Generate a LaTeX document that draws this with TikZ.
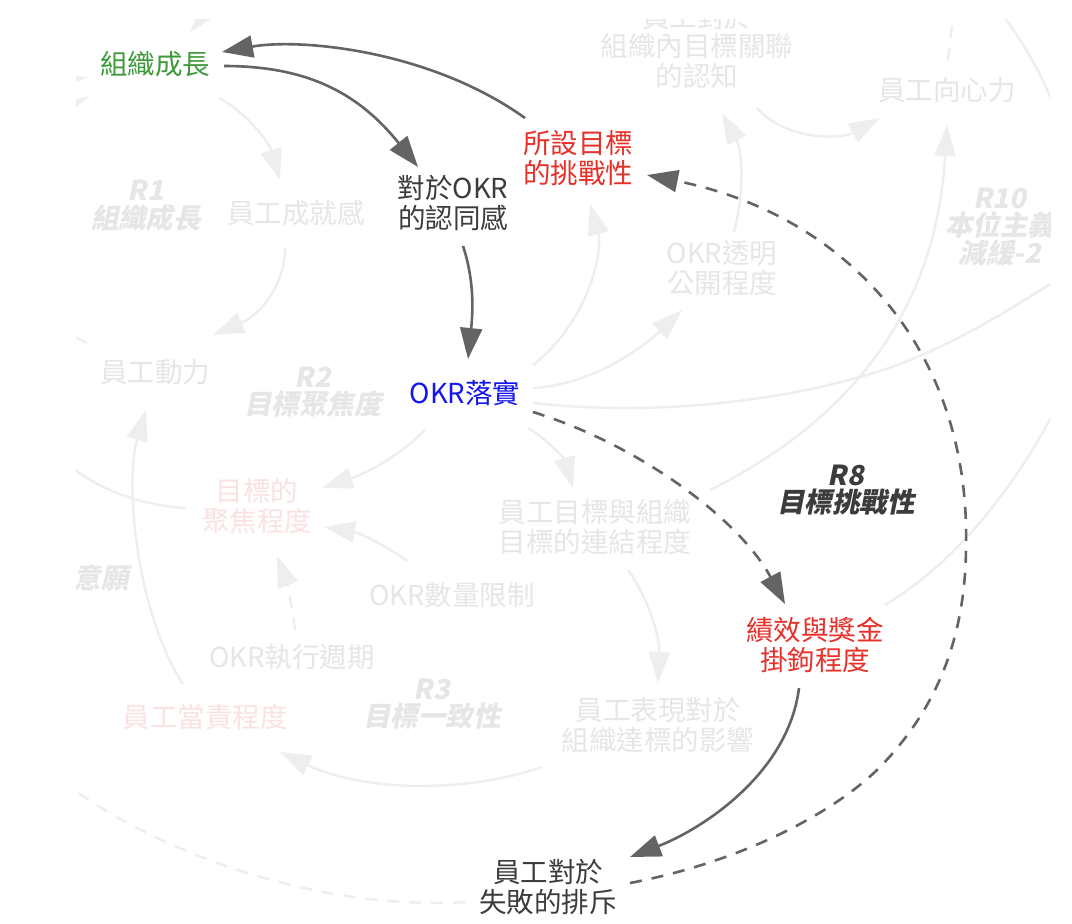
\documentclass[tikz,border=0pt]{standalone}
\usepackage{fontspec}
\setmainfont{Noto Sans CJK TC}
\newfontfamily\slfont{Noto Sans CJK TC}[UprightFeatures={FakeSlant=0.2},BoldFeatures={FakeSlant=0.2}]
\usetikzlibrary{arrows.meta,calc}
\definecolor{dk}{HTML}{646464}
\definecolor{txtdk}{HTML}{3C3C3C}
\definecolor{grn}{HTML}{3E9A3A}
\definecolor{rd}{HTML}{E8302A}
\definecolor{bl}{HTML}{1414F0}
\definecolor{fl}{HTML}{EEEEEE}
\definecolor{ft}{HTML}{E6E6E6}
\definecolor{fp}{HTML}{FBE2E2}
\tikzset{
 lbl/.style={font=\fontsize{27.5}{29.5}\selectfont, align=center, inner sep=0pt},
 looplbl/.style={font=\fontsize{27.5}{27.5}\selectfont\slfont\bfseries, align=center, inner sep=0pt},
 darr/.style={draw=dk, line width=2.6pt, -{Triangle[length=31pt,width=22pt]}},
 farr/.style={draw=fl, line width=2.4pt, -{Triangle[length=31pt,width=21pt]}},
 fline/.style={draw=fl, line width=2.4pt},
 dsh/.style={dash pattern=on 12pt off 10pt},
}
\begin{document}
\begin{tikzpicture}[x=1pt,y=-1pt]
\useasboundingbox[fill=white] (0,0) rectangle (1072,924);
\begin{scope}
\clip (76,19) rectangle (1050,924);
% ---------- faded nodes ----------
\node[lbl,text=ft] (cog) at (697,46) {員工對於\\組織內目標關聯\\的認知};
\node[lbl,text=ft] (xin) at (947,90) {員工向心力};
\node[looplbl,text=ft] (r10) at (1000,227) {R10\\本位主義\\減緩-2};
\node[lbl,text=ft] (tran) at (722,268) {OKR透明\\公開程度};
\node[looplbl,text=ft] (r1) at (146,206) {R1\\組織成長};
\node[lbl,text=ft] (ach) at (296,213) {員工成就感};
\node[lbl,text=ft] (mot) at (155,372) {員工動力};
\node[looplbl,text=ft] (r2) at (313,392) {R2\\目標聚焦度};
\node[lbl,text=fp] (foc) at (257,506) {目標的\\聚焦程度};
\node[looplbl,text=ft] (will) at (101,578) {意願};
\node[lbl,text=ft] (num) at (452,595) {OKR數量限制};
\node[lbl,text=ft] (cyc) at (292,657) {OKR執行週期};
\node[lbl,text=fp] (acc) at (205,717) {員工當責程度};
\node[looplbl,text=ft] (r3) at (432,704) {R3\\目標一致性};
\node[lbl,text=ft] (link) at (595,527) {員工目標與組織\\目標的連結程度};
\node[lbl,text=ft] (perf) at (658,725) {員工表現對於\\組織達標的影響};
% ---------- main nodes ----------
\node[lbl,text=grn] (A) at (155,64) {組織成長};
\node[lbl,text=txtdk] (B) at (453,203) {對於OKR\\的認同感};
\node[lbl,text=rd] (C) at (578,158) {所設目標\\的挑戰性};
\node[lbl,text=bl] (D) at (465,393) {OKR落實};
\node[lbl,text=rd] (E) at (815,645) {績效與獎金\\掛鉤程度};
\node[lbl,text=txtdk] (F) at (548,887) {員工對於\\失敗的排斥};
\node[looplbl,text=txtdk] (G) at (846,490) {R8\\目標挑戰性};
% ---------- faded connectors ----------
\draw[farr] ($(A)+(64,34)$) .. controls (245,112) and (268,140) .. ($(ach)+(-16,-33)$);
\draw[farr] ($(ach)+(-11,35)$) .. controls (285,285) and (260,315) .. ($(mot)+(58,-37)$);
\draw[farr] ($(acc)+(-22,-33)$) .. controls (135,610) and (125,480) .. ($(mot)+(-9,38)$);
\draw[fline] ($(foc)+(-72,2)$) .. controls (140,505) and (100,490) .. (70,466);
\draw[fline] ($(mot)+(-68,-29)$) -- (68,334);
\draw[farr] ($(D)+(-40,37)$) .. controls (400,455) and (370,472) .. ($(foc)+(65,-18)$);
\draw[farr] ($(num)+(-45,-34)$) .. controls (385,545) and (360,533) .. ($(foc)+(67,21)$);
\draw[farr,dsh] ($(cyc)+(3,-27)$) .. controls (292,605) and (286,580) .. ($(foc)+(20,50)$);
\draw[farr] ($(D)+(63,35)$) .. controls (548,440) and (565,460) .. ($(link)+(-22,-39)$);
\draw[farr] ($(link)+(33,43)$) .. controls (650,600) and (660,640) .. ($(perf)+(0,-42)$);
\draw[farr] ($(perf)+(-116,42)$) .. controls (460,795) and (360,790) .. ($(acc)+(75,35)$);
\draw[farr] ($(D)+(68,-28)$) .. controls (590,320) and (603,250) .. ($(C)+(12,46)$);
\draw[farr] ($(D)+(68,-5)$) .. controls (590,385) and (640,350) .. ($(tran)+(-40,42)$);
\draw[fline] ($(D)+(68,10)$) .. controls (640,415) and (760,405) .. (860,377) .. controls (940,355) and (1010,310) .. (1080,265);
\draw[farr] ($(link)+(115,-37)$) .. controls (830,430) and (935,330) .. ($(xin)+(0,35)$);
\draw[farr] ($(cog)+(60,62)$) .. controls (785,140) and (840,140) .. ($(xin)+(-67,28)$);
\draw[farr] ($(tran)+(12,-36)$) .. controls (745,190) and (742,150) .. ($(cog)+(25,67)$);
\draw[fline] ($(E)+(70,-40)$) .. controls (960,560) and (1020,480) .. (1060,400);
\draw[fline,dsh] ($(xin)+(1,-30)$) -- (954,10);
\draw[fline] (1003,15) .. controls (1025,45) and (1045,80) .. (1055,110);
\draw[fline,dsh] ($(F)+(-83,15)$) .. controls (330,910) and (170,862) .. (60,780);
\fill[fl] (190,32) -- (199,12) -- (222,12) -- cycle;
\fill[fl] (70,76) -- (88,77) -- (70,84) -- cycle;
\fill[fl] (70,101) -- (90,96) -- (70,112) -- cycle;
% ---------- main connectors ----------
\draw[darr] ($(C)+(-53,-40)$) .. controls (430,50) and (300,38) .. ($(A)+(67,-12)$);
\draw[darr] ($(A)+(69,2)$) .. controls (310,66) and (360,95) .. ($(B)+(-35,-36)$);
\draw[darr] ($(B)+(10,43)$) .. controls (476,285) and (472,320) .. ($(D)+(3,-34)$);
\draw[darr,dsh] ($(D)+(68,19)$) .. controls (640,445) and (740,520) .. ($(E)+(-30,-41)$);
\draw[darr] ($(E)+(-16,43)$) .. controls (788,775) and (700,830) .. ($(F)+(82,-30)$);
\draw[darr,dsh] ($(F)+(82,-4)$) .. controls (740,862) and (830,815) .. (877,770) .. controls (935,712) and (966,640) .. (966,545) .. controls (970,350) and (847,215) .. ($(C)+(69,17)$);
\end{scope}
\end{tikzpicture}
\end{document}
